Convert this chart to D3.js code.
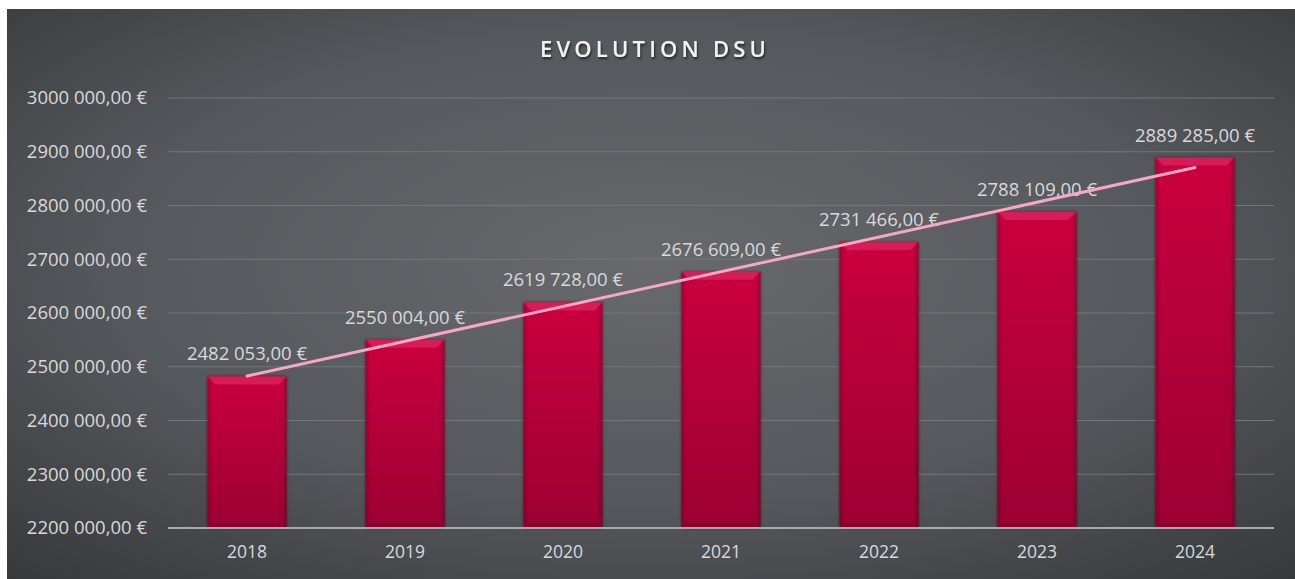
<!DOCTYPE html>
<html>
<head>
<meta charset="utf-8">
<script src="https://cdn.jsdelivr.net/npm/d3@7"></script>
<style>
  html, body { margin: 0; padding: 0; background: #ffffff; }
  svg { display: block; }
</style>
</head>
<body>
<svg id="chart" width="1295" height="579"></svg>
<script>
// chart data
var years = ["2018", "2019", "2020", "2021", "2022", "2023", "2024"];
var dsu = [2482053, 2550004, 2619728, 2676609, 2731466, 2788109, 2889285];
var yTicks = [2200000, 2300000, 2400000, 2500000, 2600000, 2700000, 2800000, 2900000, 3000000];
var title = "EVOLUTION DSU";

var W = 1295, H = 579;
var margin = {left: 168, right: 21, top: 98, bottom: 51};
var width = W - margin.left - margin.right,
    height = H - margin.top - margin.bottom;

var font = "'Open Sans', 'Noto Sans', sans-serif";

// money format as in the sheet : "2482 053,00 €" (only last group split)
function euro(v) {
    var s = Math.round(v).toString();
    return s.slice(0, -3) + " " + s.slice(-3) + ",00 €";
}

var svg = d3.select("#chart");
var defs = svg.append("defs");

// background gradient
var bg = defs.append("radialGradient")
    .attr("id", "bgGrad")
    .attr("cx", "50%").attr("cy", "45%").attr("r", "75%");
bg.append("stop").attr("offset", "0%").attr("stop-color", "#67696d");
bg.append("stop").attr("offset", "55%").attr("stop-color", "#55585c");
bg.append("stop").attr("offset", "100%").attr("stop-color", "#36383b");

// bar gradient
var barGrad = defs.append("linearGradient")
    .attr("id", "barGrad")
    .attr("x1", 0).attr("y1", 0).attr("x2", 0).attr("y2", 1);
barGrad.append("stop").attr("offset", "0%").attr("stop-color", "#c9053f");
barGrad.append("stop").attr("offset", "100%").attr("stop-color", "#9c0633");

var sideGrad = defs.append("linearGradient")
    .attr("id", "sideGrad")
    .attr("x1", 0).attr("y1", 0).attr("x2", 1).attr("y2", 0);
sideGrad.append("stop").attr("offset", "0%").attr("stop-color", "#000").attr("stop-opacity", 0.18);
sideGrad.append("stop").attr("offset", "6%").attr("stop-color", "#000").attr("stop-opacity", 0);
sideGrad.append("stop").attr("offset", "94%").attr("stop-color", "#000").attr("stop-opacity", 0);
sideGrad.append("stop").attr("offset", "100%").attr("stop-color", "#000").attr("stop-opacity", 0.22);

var shadow = defs.append("filter").attr("id", "txtShadow")
    .attr("x", "-10%").attr("y", "-30%").attr("width", "120%").attr("height", "160%");
shadow.append("feDropShadow").attr("dx", 1).attr("dy", 2).attr("stdDeviation", 1.2)
    .attr("flood-color", "#000").attr("flood-opacity", 0.6);

var barShadow = defs.append("filter").attr("id", "barShadow")
    .attr("x", "-10%").attr("y", "-5%").attr("width", "120%").attr("height", "110%");
barShadow.append("feDropShadow").attr("dx", 0).attr("dy", 0).attr("stdDeviation", 1.5)
    .attr("flood-color", "#000").attr("flood-opacity", 0.55);

svg.append("rect")
    .attr("x", 7).attr("y", 9)
    .attr("width", W - 7).attr("height", H - 9)
    .attr("fill", "url(#bgGrad)");

// title
svg.append("text")
    .attr("x", 655).attr("y", 57)
    .attr("text-anchor", "middle")
    .attr("font-family", font)
    .attr("font-size", 22)
    .attr("font-weight", 600)
    .attr("letter-spacing", 4.2)
    .attr("fill", "#f2f2f2")
    .attr("filter", "url(#txtShadow)")
    .text(title);

var g = svg.append("g")
    .attr("transform", "translate(" + margin.left + "," + margin.top + ")");

var x = d3.scaleBand().domain(years).range([0, width]).paddingInner(0.5).paddingOuter(0.25);
var y = d3.scaleLinear().domain([2200000, 3000000]).range([height, 0]);

// grid lines
g.append("g").selectAll("line")
    .data(yTicks.slice(1))
    .enter().append("line")
    .attr("x1", 0).attr("x2", width)
    .attr("y1", function(d) { return y(d); })
    .attr("y2", function(d) { return y(d); })
    .attr("stroke", "#73767a")
    .attr("stroke-width", 1.2);

// y axis labels
var yAxis = d3.axisLeft(y).tickValues(yTicks).tickFormat(euro).tickSize(0).tickPadding(21);
g.append("g").call(yAxis)
    .call(function(s) { s.select(".domain").remove(); })
    .selectAll("text")
    .attr("font-family", font)
    .attr("font-size", 18.5)
    .attr("fill", "#d9d9d9");

// bars
var bars = g.append("g").selectAll("g.bar")
    .data(dsu)
    .enter().append("g").attr("class", "bar");

bars.append("rect")
    .attr("x", function(d, i) { return x(years[i]); })
    .attr("y", function(d) { return y(d); })
    .attr("width", x.bandwidth())
    .attr("height", function(d) { return height - y(d); })
    .attr("fill", "url(#barGrad)")
    .attr("filter", "url(#barShadow)");

bars.append("rect")
    .attr("x", function(d, i) { return x(years[i]); })
    .attr("y", function(d) { return y(d); })
    .attr("width", x.bandwidth())
    .attr("height", function(d) { return height - y(d); })
    .attr("fill", "url(#sideGrad)");

// bevel top
bars.append("path")
    .attr("d", function(d, i) {
        var x0 = x(years[i]), x1 = x0 + x.bandwidth(), y0 = y(d), b = 8;
        return "M" + x0 + "," + y0 + "L" + x1 + "," + y0 + "L" + (x1 - b) + "," + (y0 + b) +
            "L" + (x0 + b) + "," + (y0 + b) + "Z";
    })
    .attr("fill", "#e4336a")
    .attr("opacity", 0.55);

// bevel bottom
bars.append("path")
    .attr("d", function(d, i) {
        var x0 = x(years[i]), x1 = x0 + x.bandwidth(), y0 = height, b = 7;
        return "M" + x0 + "," + y0 + "L" + x1 + "," + y0 + "L" + (x1 - b) + "," + (y0 - b) +
            "L" + (x0 + b) + "," + (y0 - b) + "Z";
    })
    .attr("fill", "#7a0326")
    .attr("opacity", 0.45);

// data labels
g.append("g").selectAll("text")
    .data(dsu)
    .enter().append("text")
    .attr("x", function(d, i) { return x(years[i]) + x.bandwidth() / 2; })
    .attr("y", function(d) { return y(d) - 16; })
    .attr("text-anchor", "middle")
    .attr("font-family", font)
    .attr("font-size", 18.5)
    .attr("fill", "#d9d9d9")
    .text(euro);

// base axis
g.append("line")
    .attr("x1", 0).attr("x2", width)
    .attr("y1", height).attr("y2", height)
    .attr("stroke", "#a8a9ab")
    .attr("stroke-width", 2);

// x axis labels
var xAxis = d3.axisBottom(x).tickSize(0).tickPadding(18);
g.append("g").attr("transform", "translate(0," + height + ")").call(xAxis)
    .call(function(s) { s.select(".domain").remove(); })
    .selectAll("text")
    .attr("font-family", font)
    .attr("font-size", 17.5)
    .attr("fill", "#d9d9d9");

// linear trend line (least squares)
var n = dsu.length;
var mx = d3.mean(dsu, function(d, i) { return i; });
var my = d3.mean(dsu);
var num = d3.sum(dsu, function(d, i) { return (i - mx) * (d - my); });
var den = d3.sum(dsu, function(d, i) { return (i - mx) * (i - mx); });
var slope = num / den, icpt = my - slope * mx;
var trend = [0, n - 1].map(function(i) { return {i: i, v: icpt + slope * i}; });

var trendLine = d3.line()
    .x(function(d) { return x(years[d.i]) + x.bandwidth() / 2; })
    .y(function(d) { return y(d.v); });

g.append("path")
    .datum(trend)
    .attr("d", trendLine)
    .attr("fill", "none")
    .attr("stroke", "#f7a6c6")
    .attr("stroke-width", 3)
    .attr("stroke-linecap", "round");
</script>
</body>
</html>
